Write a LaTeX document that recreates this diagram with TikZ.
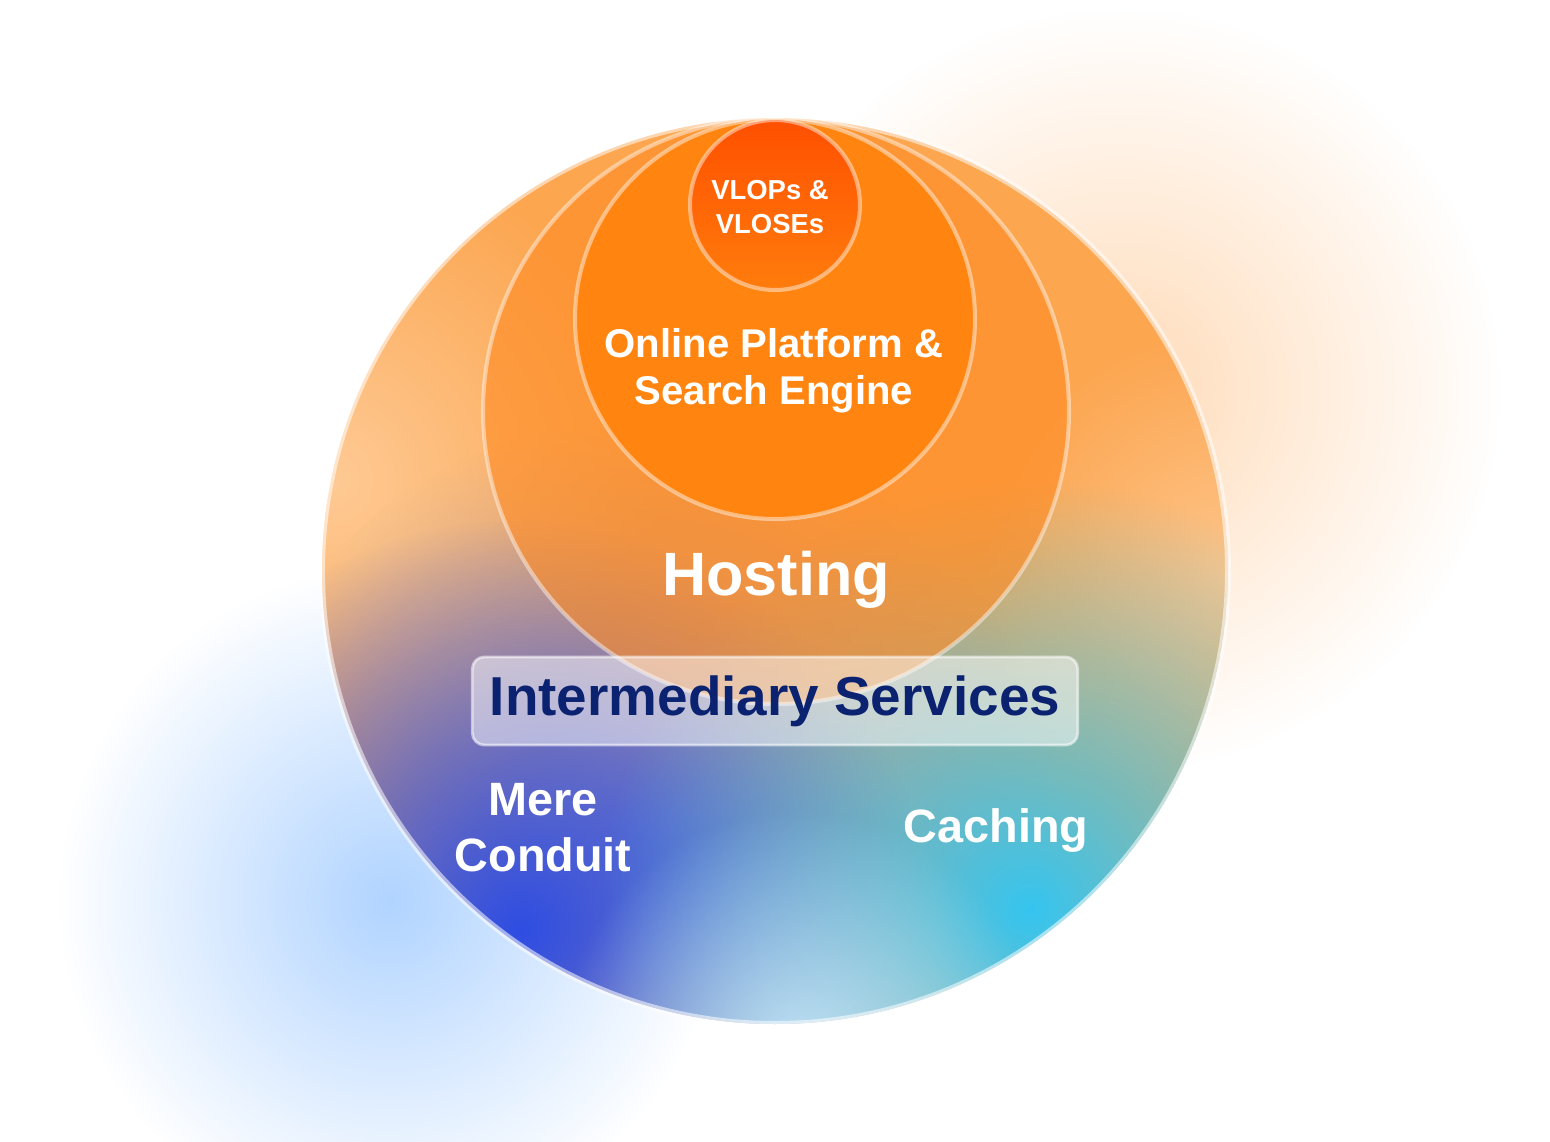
\documentclass[tikz,border=0pt]{standalone}
\usepackage{fontspec}
\setmainfont{Liberation Sans}
\usetikzlibrary{fadings,positioning}

% Colores
\definecolor{naranjaClaro}{HTML}{FCA650}
\definecolor{melocoton}{HTML}{FFD3A6}
\definecolor{hostingFill}{HTML}{FF8A22}
\definecolor{plataforma}{HTML}{FF8410}
\definecolor{vlopsTop}{HTML}{FF5000}
\definecolor{vlopsBottom}{HTML}{FF7C0C}
\definecolor{azulProfundo}{HTML}{2E4DE2}
\definecolor{lavanda}{HTML}{7A8AD2}
\definecolor{cian}{HTML}{35C5F0}
\definecolor{celeste}{HTML}{C6E9FC}
\definecolor{brilloNaranja}{HTML}{FFD2A6}
\definecolor{brilloAzul}{HTML}{A8CFFF}
\definecolor{azulTexto}{HTML}{0B2270}

% Desvanecido radial para las manchas de color
\tikzfading[name=desvanecer, inner color=transparent!0, outer color=transparent!100]

\begin{document}
\begin{tikzpicture}[x=0.01cm, y=-0.01cm,
    anillo/.style={draw=white, draw opacity=0.45, line width=1.15pt},
    mancha/.style={fill=#1, path fading=desvanecer},
    rotulo/.style={text=white, align=center},
    caja/.style={draw=white, draw opacity=0.55, line width=0.8pt,
        fill=white, fill opacity=0.5, text opacity=1,
        rounded corners=0.12cm, minimum width=6.05cm, minimum height=0.88cm,
        text=azulTexto, font=\bfseries\fontsize{15.6}{18}\selectfont}]

    % Marco de la figura
    \useasboundingbox (0,0) rectangle (1550,1142);
    \fill[white] (0,0) rectangle (1550,1142);

    % Centros de los circulos
    \coordinate (cI) at (775,571);   % servicios intermediarios
    \coordinate (cH) at (776,411);   % hosting
    \coordinate (cO) at (775,319);   % plataformas y buscadores
    \coordinate (cV) at (775,205);   % VLOPs y VLOSEs

    % Resplandores de fondo
    \fill[mancha=brilloNaranja, fill opacity=0.8] (1120,390) circle (380);
    \fill[mancha=brilloAzul, fill opacity=0.9] (390,900) circle (330);

    % Circulo exterior con sus manchas de color
    \begin{scope}
        \clip (cI) circle (453);
        \fill[naranjaClaro] (cI) circle (453);
        \fill[mancha=melocoton, fill opacity=0.8] (330,480) circle (330);
        \fill[mancha=melocoton, fill opacity=0.7] (1230,580) circle (250);
        \fill[mancha=lavanda, fill opacity=0.8] (640,840) circle (420);
        \fill[mancha=azulProfundo] (520,930) circle (410);
        \fill[mancha=cian] (1030,910) circle (430);
        \fill[mancha=celeste, fill opacity=0.9] (800,1050) circle (240);
    \end{scope}
    \draw[anillo, draw opacity=0.55, line width=1.7pt] (cI) circle (453);

    % Circulos interiores
    \fill[hostingFill, fill opacity=0.6] (cH) circle (293);
    \draw[anillo] (cH) circle (293);
    \fill[plataforma] (cO) circle (200);
    \draw[anillo] (cO) circle (200);
    \shade[top color=vlopsTop, bottom color=vlopsBottom] (cV) circle (85);
    \draw[anillo] (cV) circle (85);

    % Rotulos
    \node[rotulo, font=\bfseries\fontsize{7.8}{9.7}\selectfont] (vlops) at (770,207) {VLOPs \&\\VLOSEs};
    \node[rotulo, font=\bfseries\fontsize{11.4}{13.4}\selectfont] (plat) at (774,371) {Online Platform \&\\Search Engine};
    \node[rotulo, font=\bfseries\fontsize{17.4}{20}\selectfont] (host) at (776,580) {Hosting};
    \node[caja] (inter) at (775,701) {Intermediary Services};
    \node[rotulo, font=\bfseries\fontsize{13.3}{16}\selectfont] (mere) at (543,828) {Mere\\Conduit};
    \node[rotulo, font=\bfseries\fontsize{13.3}{16}\selectfont] (cach) at (996,831) {Caching};

\end{tikzpicture}
\end{document}
